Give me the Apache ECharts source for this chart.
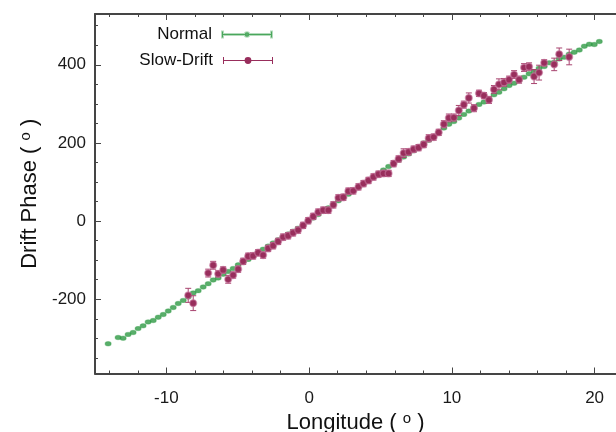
<!DOCTYPE html>
<html><head><meta charset="utf-8">
<script src="https://cdn.jsdelivr.net/npm/echarts@6/dist/echarts.min.js"></script>
<style>html,body{margin:0;padding:0;background:#fff}#c{width:616px;height:432px}</style>
</head><body><div id="c"></div>
<script>
// ---- data ----
const normalLon = [-14.08,-13.38,-13.03,-12.68,-12.33,-11.98,-11.63,-11.28,-10.92,-10.57,-10.22,-9.87,-9.52,-9.17,-8.82,-8.47,-8.12,-7.77,-7.42,-7.07,-6.72,-6.37,-6.02,-5.67,-5.32,-4.97,-4.62,-4.27,-3.92,-3.57,-3.22,-2.87,-2.52,-2.17,-1.82,-1.47,-1.12,-0.77,-0.42,-0.06,0.29,0.64,0.99,1.35,1.70,2.05,2.40,2.75,3.10,3.46,3.81,4.16,4.51,4.86,5.21,5.57,5.92,6.27,6.62,6.97,7.32,7.67,8.03,8.38,8.73,9.08,9.44,9.79,10.14,10.49,10.84,11.19,11.55,11.90,12.25,12.60,12.95,13.30,13.66,14.01,14.36,14.71,15.06,15.41,15.76,16.11,16.47,16.82,17.17,17.52,17.87,18.22,18.57,18.93,19.28,19.63,19.98,20.33];
const normalPhase = [-314,-298,-299.5,-290,-285,-275,-268,-258,-254.5,-246,-239,-230,-221,-211,-203,-194,-184,-178,-168.5,-160,-150.6,-145.5,-136,-129,-121,-112,-105,-98,
  -89,-80,-72,-64,-56,-48,-40,-33,-26,-18,-10,-1,8,17,26,34,43,52,60,69,78,86,95,104,113,122,131,139.6,148,156,164,172,180,188,
  200,207,217,227,238,248,255,263.7,273,281.6,291,298.7,304.6,313,323.5,330,338.8,347,353,360,368.4,377,382,391.4,395.7,405,406.7,415,419.5,427,432,438,447.5,452.7,452,459.5];

const slowLon = [-8.47,-8.12,-7.07,-6.72,-6.37,-6.02,-5.67,-5.32,-4.97,-4.62,-4.27,-3.92,-3.57,-3.22,-2.87,-2.52,-2.17,-1.82,-1.47,-1.12,-0.77,-0.42,-0.06,0.29,0.64,0.99,1.35,1.70,2.05,2.40,2.75,3.10,3.46,3.81,4.16,4.51,4.86,5.21,5.57,5.92,6.27,6.62,6.97,7.32,7.67,8.03,8.38,8.73,9.08,9.44,9.79,10.14,10.49,10.84,11.19,11.55,11.90,12.25,12.60,12.95,13.30,13.66,14.01,14.36,14.71,15.06,15.41,15.76,16.11,16.47,17.17,17.52,18.22];
const slowPhase = [-190,-210,-133,-113,-135,-125,-149,-138,-123,-103,-90,-89,-81,-87,-70,-63,-52,-41,-37.5,-30,-23,-11,1,12,23,28,28,41.6,59.5,61,76.6,77.4,87.6,96,104,113,120,122,122,147,159,174,177,184,188,196,212,215,227,248,264,265,283,298,315,289,327,321,310,337,350,355,362,375,362,393,395,370,380,405,401,427,420];
const slowErr = [18,19,10,10,8,8,10,8,8,8,8,
  8,8,8,8,8,8,8,8,8,8,8,8,8,8,8,8,8,8,8,8,8,8,8,8,8,8,8,8,8,8,
  11,8,8,8,8,9,8,8,9,10,9,13,9,13,9,8,8,9,10,14,10,9,10,9,10,10,18,19,8,
  16,16,20];

const xMinorTicks = [-14,-12,-10,-8,-6,-4,-2,0,2,4,6,8,10,12,14,16,18,20];
const xMajorTicks = [-10,0,10,20];
const yMinorTicks = [-350,-300,-250,-200,-150,-100,-50,0,50,100,150,200,250,300,350,400,450,500];
const yMajorTicks = [-200,0,200,400];

// ---- layout / style ----
const W = 616, H = 432;
const G = {left: 95, right: 0, top: 14, bottom: 58.5};
const XMIN = -15, XMAX = 21.5, YMIN = -390, YMAX = 530;
const FONT = '"Liberation Sans", Arial, Helvetica, sans-serif';
const GREEN = '#2f9a45';
const MAROON = '#982e5c';
const BAR = '#a8446f';
const AX = '#454545';

const gw = W - G.left - G.right, gh = H - G.top - G.bottom;
const px = v => G.left + (v - XMIN) * gw / (XMAX - XMIN);
const py = v => G.top + (YMAX - v) * gh / (YMAX - YMIN);

const ICON_N = 'path://M0,2L1,2L1,8L0,8Z M1,4.5L23,4.5L23,5.5L1,5.5Z M27,4.5L49,4.5L49,5.5L27,5.5Z M49,2L50,2L50,8L49,8Z M22.8,5A2.2,2.2,0,1,1,27.2,5A2.2,2.2,0,1,1,22.8,5Z';
const ICON_S = 'path://M0,1.5L1,1.5L1,8.5L0,8.5Z M1,4.5L22,4.5L22,5.5L1,5.5Z M28,4.5L49,4.5L49,5.5L28,5.5Z M49,1.5L50,1.5L50,8.5L49,8.5Z M21.6,5A3.4,3.4,0,1,1,28.4,5A3.4,3.4,0,1,1,21.6,5Z';

// tick-only grids aligned to the main grid so that their min is a multiple of their interval
const mk = (l, r, t, b) => ({left: l, right: r, top: t, bottom: b, outerBoundsMode: 'none', containLabel: false});
const grids = [
  mk(G.left, G.right, G.top, G.bottom),
  mk(px(xMinorTicks[0]), W - px(xMinorTicks[xMinorTicks.length - 1]), G.top, G.bottom),
  mk(px(xMajorTicks[0]), W - px(xMajorTicks[xMajorTicks.length - 1]), G.top, G.bottom),
  mk(G.left, G.right, py(yMinorTicks[yMinorTicks.length - 1]), H - py(yMinorTicks[0])),
  mk(G.left, G.right, py(yMajorTicks[yMajorTicks.length - 1]), H - py(yMajorTicks[0]))
];

const hidden = gi => ({type: 'value', gridIndex: gi, show: false, min: 0, max: 1});
function tickAxis(gi, pos, ticks, len) {
  return {
    type: 'value', gridIndex: gi, position: pos,
    min: ticks[0], max: ticks[ticks.length - 1], interval: ticks[1] - ticks[0],
    axisLine: {show: false, onZero: false},
    axisTick: {show: true, inside: true, length: len, lineStyle: {color: AX, width: 1}},
    axisLabel: {show: false}, splitLine: {show: false}
  };
}
const nameStyle = {fontSize: 22, color: '#111', fontFamily: FONT,
  rich: {sup: {fontSize: 15, color: '#111', fontFamily: FONT, padding: [0, 0, 9, 0]}}};

const xAxes = [
  {type: 'value', gridIndex: 0, position: 'bottom', min: XMIN, max: XMAX,
   axisLine: {show: true, onZero: false, lineStyle: {color: AX, width: 2}},
   axisTick: {show: false},
   axisLabel: {show: true, customValues: xMajorTicks, fontSize: 17, color: '#1a1a1a', fontFamily: FONT, margin: 16},
   splitLine: {show: false},
   name: 'Longitude ( {sup|o} )', nameLocation: 'middle', nameGap: 35, nameTextStyle: nameStyle},
  {type: 'value', gridIndex: 0, position: 'top', min: XMIN, max: XMAX,
   axisLine: {show: true, onZero: false, lineStyle: {color: AX, width: 2}},
   axisTick: {show: false}, axisLabel: {show: false}, splitLine: {show: false}},
  tickAxis(1, 'bottom', xMinorTicks, 3),
  tickAxis(1, 'top', xMinorTicks, 3),
  tickAxis(2, 'bottom', xMajorTicks, 6),
  tickAxis(2, 'top', xMajorTicks, 6),
  hidden(3), hidden(4)
];
const yAxes = [
  {type: 'value', gridIndex: 0, position: 'left', min: YMIN, max: YMAX,
   axisLine: {show: true, onZero: false, lineStyle: {color: AX, width: 2}},
   axisTick: {show: false},
   axisLabel: {show: true, customValues: yMajorTicks, fontSize: 17, color: '#1a1a1a', fontFamily: FONT, margin: 9},
   splitLine: {show: false},
   name: 'Drift Phase ( {sup|o} )', nameLocation: 'middle', nameGap: 52, nameRotate: 90, nameTextStyle: nameStyle},
  hidden(1), hidden(2),
  tickAxis(3, 'left', yMinorTicks, 3),
  tickAxis(4, 'left', yMajorTicks, 6)
];

const chart = echarts.init(document.getElementById('c'), null, {renderer: 'canvas'});
chart.setOption({
  animation: false,
  backgroundColor: '#fff',
  grid: grids,
  xAxis: xAxes,
  yAxis: yAxes,
  legend: [
    {data: [{name: 'Normal', icon: ICON_N}], right: 343, top: 26, padding: 0, align: 'right', orient: 'vertical',
     itemWidth: 50, itemHeight: 10, selectedMode: false,
     textStyle: {fontSize: 17, color: '#111', fontFamily: FONT, padding: [0, 5, 0, 0]}},
    {data: [{name: 'Slow-Drift', icon: ICON_S}], right: 343, top: 52, padding: 0, align: 'right', orient: 'vertical',
     itemWidth: 50, itemHeight: 10, selectedMode: false,
     textStyle: {fontSize: 17, color: '#111', fontFamily: FONT, padding: [0, 5, 0, 0]}}
  ],
  series: [
    {
      name: 'Normal', type: 'scatter', xAxisIndex: 0, yAxisIndex: 0,
      symbol: 'circle', symbolSize: [6, 4.5],
      itemStyle: {color: GREEN, borderColor: 'rgba(47,154,69,0.45)', borderWidth: 1},
      data: normalLon.map((x, i) => [x, normalPhase[i]]),
      z: 2
    },
    {
      name: 'Slow-Drift', type: 'custom', xAxisIndex: 0, yAxisIndex: 0,
      itemStyle: {color: MAROON},
      encode: {x: 0, y: 1},
      data: slowLon.map((x, i) => [x, slowPhase[i], slowErr[i]]),
      renderItem: function (params, api) {
        const x = api.value(0), y = api.value(1), e = api.value(2);
        const c = api.coord([x, y]);
        const t = api.coord([x, y + e]);
        const b = api.coord([x, y - e]);
        const w = 3;
        return {type: 'group', children: [
          {type: 'line', shape: {x1: c[0], y1: t[1], x2: c[0], y2: b[1]}, style: {stroke: BAR, lineWidth: 1}},
          {type: 'line', shape: {x1: c[0] - w, y1: t[1], x2: c[0] + w, y2: t[1]}, style: {stroke: BAR, lineWidth: 1}},
          {type: 'line', shape: {x1: c[0] - w, y1: b[1], x2: c[0] + w, y2: b[1]}, style: {stroke: BAR, lineWidth: 1}},
          {type: 'circle', shape: {cx: c[0], cy: c[1], r: 3.4}, style: {fill: MAROON, stroke: 'rgba(200,120,160,0.55)', lineWidth: 1.5}}
        ]};
      },
      z: 3
    }
  ]
});
</script></body></html>
